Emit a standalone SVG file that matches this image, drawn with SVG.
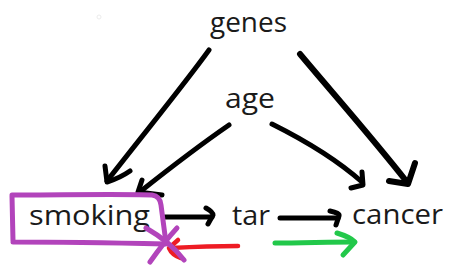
<svg xmlns="http://www.w3.org/2000/svg" width="464" height="278" viewBox="0 0 464 278">
  <style>
    .label { font-family: "Open Sans", "Noto Sans", "DejaVu Sans", sans-serif; font-size: 28px; fill: #1a1a1a; }
    .ink { fill: none; stroke: #000; stroke-width: 5; stroke-linecap: round; stroke-linejoin: round; }
    .ink-bold { stroke-width: 6; }
    .purple { fill: none; stroke: #b244bb; stroke-width: 5; stroke-linecap: round; stroke-linejoin: round; }
    .red { fill: none; stroke: #ee1c24; stroke-width: 4.5; stroke-linecap: round; stroke-linejoin: round; }
    .green { fill: none; stroke: #22c84a; stroke-width: 5; stroke-linecap: round; stroke-linejoin: round; }
  </style>

  <rect width="464" height="278" fill="#fff"/>

  <!-- stray dot -->
  <circle cx="99" cy="17" r="2" fill="none" stroke="#ececec" stroke-width="1"/>

  <!-- connectors -->
  <g id="connectors">
    <!-- genes -> smoking -->
    <path class="ink" d="M209,50 C186,82 150,126 107,181"/>
    <path class="ink" d="M105,166 L107,182 Q120,178 130,171"/>
    <!-- age -> smoking -->
    <path class="ink" d="M229,125 C200,145 170,168 141,191"/>
    <path class="ink" d="M142,180 L138,192 L162,195"/>
    <!-- age -> cancer -->
    <path class="ink" d="M272,124 C300,138 335,158 362,182"/>
    <path class="ink" d="M362,172 L363,185 L351,188"/>
    <!-- genes -> cancer -->
    <path class="ink ink-bold" d="M300,54 C330,90 370,135 407,182"/>
    <path class="ink ink-bold" d="M415,163 L408,184 L389,181"/>
    <!-- smoking -> tar -->
    <path class="ink" d="M165,217 L212,217"/>
    <path class="ink" d="M206,208 Q213,212 213,215 L208,224"/>
    <!-- tar -> cancer -->
    <path class="ink" d="M280,218 L338,218"/>
    <path class="ink" d="M330,211 Q340,213 339,216 L336,225"/>
  </g>

  <!-- nodes -->
  <g id="genes">
    <text class="label" x="210" y="32" textLength="77" lengthAdjust="spacingAndGlyphs">genes</text>
  </g>
  <g id="age">
    <text class="label" x="225" y="108" textLength="50" lengthAdjust="spacingAndGlyphs">age</text>
  </g>
  <g id="smoking">
    <text class="label" x="29" y="225" textLength="121" lengthAdjust="spacingAndGlyphs">smoking</text>
  </g>
  <g id="tar">
    <text class="label" x="232" y="225" textLength="38" lengthAdjust="spacingAndGlyphs">tar</text>
  </g>
  <g id="cancer">
    <text class="label" x="352" y="224" textLength="91" lengthAdjust="spacingAndGlyphs">cancer</text>
  </g>

  <!-- hand-drawn annotations -->
  <g id="annotations">
    <!-- red backward arrow -->
    <path class="red" d="M238,246 C215,246 190,247 171,248"/>
    <path class="red" d="M178,240 L169,248 Q172,255 181,258"/>
    <!-- green forward arrow -->
    <path class="green" d="M275,243 C300,243 330,242 354,242"/>
    <path class="green" d="M337,233 Q350,237 355,242 L343,255"/>
    <!-- purple box round smoking -->
    <path class="purple" d="M12,196 L13,241 M12,195 C60,195 120,194 152,195 Q160,196 161,205 L166,243 M13,242 C60,242 120,243 166,244"/>
    <!-- purple cross -->
    <path class="purple" d="M146,228 C160,236 175,248 184,260"/>
    <path class="purple" d="M177,228 C166,240 157,252 150,262"/>
  </g>
</svg>
